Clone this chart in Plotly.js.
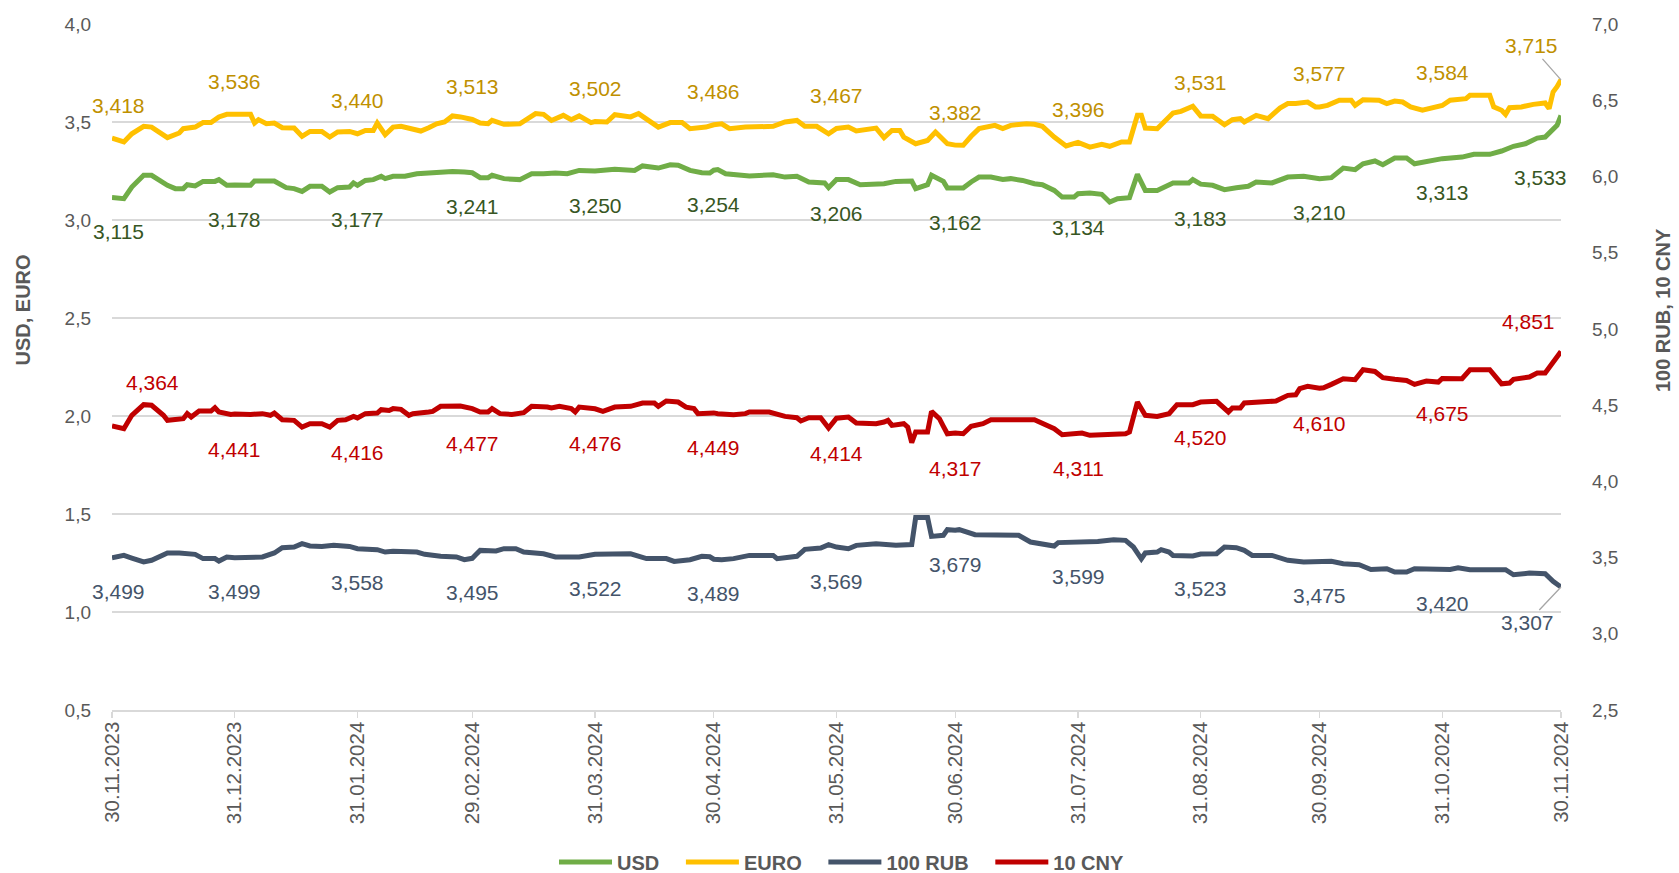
<!DOCTYPE html>
<html>
<head>
<meta charset="utf-8">
<script src="https://cdn.plot.ly/plotly-3.0.1.min.js"></script>
<style>html,body{margin:0;padding:0;background:#fff;}#chart{width:1679px;height:873px;}</style>
</head>
<body>
<div id="chart"></div>
<script>
// Day offsets are days since 30.11.2023
const startDate = '2023-11-30';

const usdDays = [
  0,3,5,8,10,14,16,18,19,21,
  23,26,27,29,31,35,36,41,44,46,
  48,50,53,55,57,60,61,62,64,66,
  68,69,71,74,77,81,82,86,89,91,
  93,95,96,99,103,106,109,112,115,118,
  122,127,132,134,138,141,143,146,149,151,
  152,153,155,161,167,170,173,176,180,181,
  183,186,189,195,198,202,203,206,207,210,
  211,213,215,217,219,222,225,227,230,233,
  235,238,240,243,244,247,250,252,254,257,
  259,261,264,268,272,273,275,278,281,284,
  287,289,293,297,301,305,308,311,314,316,
  319,321,324,327,329,336,338,341,344,348,
  351,354,357,360,362,364,365,366];
const usdVals = [
  3.115,3.109,3.168,3.228,3.228,3.177,3.160,3.160,3.180,3.174,
  3.197,3.197,3.206,3.177,3.178,3.177,3.199,3.199,3.165,3.160,
  3.146,3.172,3.172,3.143,3.165,3.168,3.189,3.177,3.202,3.206,
  3.223,3.211,3.223,3.223,3.236,3.240,3.245,3.248,3.245,3.241,
  3.216,3.216,3.228,3.211,3.206,3.236,3.236,3.240,3.236,3.253,
  3.250,3.259,3.253,3.276,3.265,3.282,3.279,3.253,3.241,3.240,
  3.254,3.257,3.236,3.224,3.231,3.219,3.223,3.194,3.189,3.165,
  3.206,3.206,3.180,3.185,3.197,3.199,3.160,3.180,3.228,3.197,
  3.163,3.162,3.163,3.194,3.219,3.219,3.207,3.211,3.202,3.185,
  3.180,3.151,3.117,3.117,3.134,3.138,3.131,3.092,3.109,3.114,
  3.233,3.151,3.151,3.189,3.189,3.206,3.183,3.177,3.155,3.165,
  3.172,3.194,3.189,3.219,3.223,3.210,3.216,3.265,3.257,3.287,
  3.301,3.282,3.316,3.316,3.287,3.313,3.318,3.321,3.335,3.335,
  3.352,3.376,3.389,3.418,3.423,3.466,3.483,3.533];

const euroDays = [
  0,3,5,8,10,14,17,18,21,23,
  25,27,29,35,36,37,39,41,43,46,
  48,50,53,55,57,60,62,64,66,67,
  69,71,73,75,78,80,82,84,86,88,
  91,93,95,96,99,103,105,107,109,111,
  114,116,118,121,122,125,127,131,133,135,
  138,141,144,146,150,152,154,156,160,167,
  170,173,175,178,181,183,186,188,193,195,
  197,199,200,203,206,208,211,213,215,217,
  219,223,225,227,231,233,235,238,241,244,
  247,250,252,255,257,259,260,261,264,268,
  270,273,275,278,281,283,285,286,289,292,
  295,297,299,302,304,305,307,310,313,314,
  316,320,322,324,326,328,331,336,338,342,
  343,348,349,351,352,353,356,359,362,363,
  364,365,366];
const euroVals = [
  3.418,3.398,3.440,3.478,3.474,3.420,3.444,3.466,3.474,3.497,
  3.497,3.526,3.539,3.539,3.495,3.512,3.491,3.495,3.471,3.469,
  3.427,3.452,3.452,3.423,3.449,3.452,3.440,3.457,3.457,3.495,
  3.435,3.474,3.478,3.466,3.454,3.471,3.491,3.500,3.531,3.526,
  3.513,3.495,3.491,3.508,3.488,3.491,3.514,3.543,3.539,3.508,
  3.534,3.512,3.531,3.497,3.502,3.500,3.537,3.526,3.543,3.517,
  3.474,3.497,3.497,3.466,3.474,3.486,3.491,3.466,3.474,3.478,
  3.500,3.508,3.478,3.478,3.440,3.467,3.474,3.454,3.469,3.420,
  3.457,3.457,3.423,3.389,3.406,3.449,3.389,3.382,3.381,3.427,
  3.466,3.483,3.466,3.483,3.491,3.488,3.478,3.423,3.378,3.396,
  3.372,3.386,3.376,3.398,3.398,3.534,3.534,3.469,3.466,3.546,
  3.554,3.580,3.531,3.529,3.486,3.512,3.517,3.500,3.534,3.517,
  3.571,3.594,3.594,3.602,3.577,3.577,3.585,3.611,3.611,3.585,
  3.614,3.611,3.594,3.607,3.602,3.577,3.560,3.584,3.611,3.619,
  3.636,3.636,3.577,3.560,3.539,3.573,3.577,3.590,3.597,3.568,
  3.653,3.680,3.715];

const rubDays = [
  0,3,5,8,10,14,17,21,23,26,
  27,29,31,38,41,43,46,48,50,53,
  56,60,62,65,67,69,71,77,79,83,
  87,89,91,92,93,97,99,102,104,109,
  112,118,122,131,135,140,142,146,149,151,
  152,154,157,161,167,168,173,175,179,181,
  183,186,188,193,198,202,203,206,207,210,
  211,213,214,218,225,229,232,238,239,244,
  249,253,256,258,260,261,264,265,267,268,
  273,275,279,281,284,286,288,293,297,301,
  305,308,311,315,318,322,324,327,329,336,
  338,340,343,352,354,358,362,364,366];
const rubVals = [
  3.499,3.514,3.497,3.471,3.482,3.530,3.530,3.521,3.493,3.493,
  3.477,3.504,3.499,3.504,3.530,3.565,3.569,3.591,3.576,3.573,
  3.580,3.573,3.558,3.552,3.552,3.536,3.541,3.536,3.521,3.508,
  3.504,3.486,3.495,3.521,3.547,3.543,3.558,3.558,3.536,3.525,
  3.504,3.504,3.522,3.525,3.493,3.493,3.475,3.486,3.508,3.505,
  3.489,3.486,3.493,3.514,3.514,3.493,3.508,3.554,3.563,3.585,
  3.569,3.558,3.580,3.591,3.580,3.585,3.762,3.762,3.639,3.646,
  3.683,3.679,3.683,3.650,3.646,3.646,3.602,3.576,3.598,3.599,
  3.606,3.617,3.613,3.569,3.492,3.530,3.536,3.552,3.536,3.514,
  3.510,3.523,3.525,3.569,3.565,3.547,3.514,3.514,3.482,3.471,
  3.475,3.475,3.460,3.453,3.422,3.427,3.405,3.405,3.427,3.420,
  3.422,3.433,3.420,3.420,3.387,3.398,3.394,3.344,3.307];

const cnyDays = [
  0,3,5,8,10,13,14,18,19,20,
  22,25,26,27,30,31,35,38,40,41,
  43,46,48,50,53,55,57,59,61,62,
  64,67,68,70,71,73,75,76,80,81,
  83,87,88,91,93,95,96,98,101,104,
  106,110,111,113,116,117,118,122,124,127,
  131,134,137,138,140,143,145,147,148,152,
  153,157,160,161,166,170,173,174,176,179,
  181,183,186,188,193,195,196,197,200,201,
  202,203,206,207,209,210,211,213,215,217,
  220,222,226,229,233,235,238,240,244,245,
  247,256,257,258,259,261,264,267,269,273,
  275,279,282,283,285,286,291,294,297,299,
  300,302,305,306,308,311,314,316,319,321,
  324,327,329,332,335,336,341,343,348,351,
  353,354,358,360,362,364,366];
const cnyVals = [
  4.364,4.345,4.433,4.503,4.499,4.433,4.400,4.411,4.444,4.422,
  4.461,4.461,4.483,4.455,4.439,4.441,4.439,4.444,4.433,4.448,
  4.404,4.400,4.356,4.378,4.378,4.356,4.400,4.404,4.426,4.416,
  4.444,4.448,4.470,4.465,4.477,4.472,4.433,4.444,4.455,4.459,
  4.492,4.487,4.494,4.477,4.455,4.455,4.477,4.444,4.439,4.450,
  4.492,4.487,4.481,4.492,4.477,4.455,4.487,4.476,4.459,4.487,
  4.492,4.514,4.514,4.492,4.527,4.520,4.487,4.477,4.444,4.449,
  4.444,4.437,4.444,4.455,4.455,4.426,4.417,4.396,4.417,4.417,
  4.350,4.414,4.422,4.382,4.378,4.389,4.400,4.367,4.378,4.356,
  4.254,4.324,4.324,4.459,4.411,4.361,4.312,4.317,4.312,4.361,
  4.378,4.404,4.400,4.404,4.404,4.382,4.345,4.306,4.311,4.317,
  4.302,4.312,4.324,4.422,4.520,4.433,4.426,4.444,4.503,4.503,
  4.520,4.525,4.455,4.481,4.481,4.514,4.520,4.527,4.564,4.568,
  4.608,4.623,4.610,4.614,4.636,4.673,4.667,4.732,4.721,4.680,
  4.669,4.662,4.636,4.658,4.651,4.675,4.673,4.732,4.732,4.640,
  4.645,4.669,4.684,4.710,4.710,4.782,4.851];

// Month-end labelled points and x tick labels
const labelDates = ['2023-11-30','2023-12-31','2024-01-31','2024-02-29','2024-03-31','2024-04-30',
  '2024-05-31','2024-06-30','2024-07-31','2024-08-31','2024-09-30','2024-10-31','2024-11-30'];
const tickLabels = ['30.11.2023','31.12.2023','31.01.2024','29.02.2024','31.03.2024','30.04.2024',
  '31.05.2024','30.06.2024','31.07.2024','31.08.2024','30.09.2024','31.10.2024','30.11.2024'];
const usdLabels  = [3.115,3.178,3.177,3.241,3.250,3.254,3.206,3.162,3.134,3.183,3.210,3.313,3.533];
const euroLabels = [3.418,3.536,3.440,3.513,3.502,3.486,3.467,3.382,3.396,3.531,3.577,3.584,3.715];
const rubLabels  = [3.499,3.499,3.558,3.495,3.522,3.489,3.569,3.679,3.599,3.523,3.475,3.420,3.307];
const cnyLabels  = [4.364,4.441,4.416,4.477,4.476,4.449,4.414,4.317,4.311,4.520,4.610,4.675,4.851];

const seriesNames = ['USD','EURO','100 RUB','10 CNY'];
const axisTitles = ['USD, EURO', '100 RUB, 10 CNY'];

// ---- helpers ----
const t0 = Date.UTC(2023, 10, 30);
function toDate(d){ return new Date(t0 + d*86400000).toISOString().slice(0,10); }
function fmt(v){ return v.toFixed(3).replace('.', ','); }

const FONT = '"Liberation Sans", Arial, Helvetica, sans-serif';
const GREY = '#595959';
const colors = {usd:'#70AD47', euro:'#FFC000', rub:'#44546A', cny:'#C00000'};
const labelColors = {usd:'#375623', euro:'#BF9000', rub:'#44546A', cny:'#C00000'};
const LEGEND_PAD = '&nbsp;&nbsp;&nbsp;';

function line(days, vals, name, color, yaxis, pad){
  return {x: days.map(toDate), y: vals, name: '<b>'+name+'</b>' + (pad ? LEGEND_PAD : ''),
    type:'scatter', mode:'lines',
    yaxis: yaxis, line:{color: color, width: 5, shape:'linear'}, hoverinfo:'skip'};
}

const traces = [
  line(usdDays, usdVals, seriesNames[0], colors.usd, 'y', true),
  line(euroDays, euroVals, seriesNames[1], colors.euro, 'y', true),
  line(rubDays, rubVals, seriesNames[2], colors.rub, 'y2', true),
  line(cnyDays, cnyVals, seriesNames[3], colors.cny, 'y2', false)
];

const annotations = [];
function addLabels(vals, yref, color, defShift, special){
  vals.forEach((v, i) => {
    const a = {x: labelDates[i], y: v, xref:'x', yref: yref, text: fmt(v), showarrow:false,
      xanchor:'center', yanchor:'middle', yshift: defShift, xshift: 0,
      font:{family: FONT, size: 21, color: color}};
    if (i === 0) a.xshift = 6;
    if (special[i]) Object.assign(a, special[i]);
    annotations.push(a);
  });
}
const last = labelDates.length - 1;
const arrowStyle = {showarrow:true, arrowhead:0, arrowwidth:1.3, arrowcolor:'#A6A6A6', standoff:0, xshift:0, yshift:0};
addLabels(euroLabels, 'y', labelColors.euro, 33, {[last]: Object.assign({}, arrowStyle, {ax:-30, ay:-34})});
addLabels(usdLabels, 'y', labelColors.usd, -34, {[last]: {xshift:-21, yshift:-62}});
addLabels(rubLabels, 'y2', labelColors.rub, -34, {[last]: Object.assign({}, arrowStyle, {ax:-34, ay:36})});
addLabels(cnyLabels, 'y2', labelColors.cny, -35, {0: {xshift:40, yshift:43}, [last]: {xshift:-33, yshift:30}});

// axis titles (positioned like the reference, above the vertical centre)
annotations.push({text:'<b>'+axisTitles[0]+'</b>', xref:'paper', yref:'paper', x:-0.0611, y:0.583,
  textangle:-90, showarrow:false, xanchor:'center', yanchor:'middle',
  font:{family: FONT, size:20, color: GREY}});
annotations.push({text:'<b>'+axisTitles[1]+'</b>', xref:'paper', yref:'paper', x:1.0704, y:0.583,
  textangle:-90, showarrow:false, xanchor:'center', yanchor:'middle',
  font:{family: FONT, size:20, color: GREY}});

const layout = {
  width: 1679, height: 873,
  margin: {l:112, r:118, t:24, b:163, pad:0, autoexpand:false},
  paper_bgcolor:'#ffffff', plot_bgcolor:'#ffffff',
  separators: ', ',
  font: {family: FONT, color: GREY, size:19},
  showlegend: true,
  xaxis: {
    type:'date', range:[startDate, '2024-11-30'], automargin:false,
    tickmode:'array', tickvals: labelDates, ticktext: tickLabels, tickangle:-90,
    ticks:'outside', ticklen:6, tickwidth:1.3, tickcolor:'#D9D9D9', ticklabelstandoff:-4,
    showline:true, linecolor:'#D9D9D9', linewidth:1.5,
    showgrid:false, zeroline:false,
    tickfont:{family: FONT, size:20.5, color: GREY}
  },
  yaxis: {
    range:[0.5, 4.0], tick0:0.5, dtick:0.5, tickformat:'.1f', automargin:false,
    showgrid:true, gridcolor:'#D9D9D9', gridwidth:1.5, zeroline:false, showline:false, ticks:'',
    ticklabelstandoff:20,
    tickfont:{family: FONT, size:19, color: GREY}
  },
  yaxis2: {
    range:[2.5, 7.0], tick0:2.5, dtick:0.5, tickformat:'.1f', automargin:false,
    overlaying:'y', side:'right', showgrid:false, zeroline:false, showline:false, ticks:'',
    ticklabelstandoff:30,
    tickfont:{family: FONT, size:19, color: GREY}
  },
  legend: {orientation:'h', x:0.5038, xanchor:'center', y:-0.2216, yanchor:'middle', itemwidth:53,
    font:{family: FONT, size:20, color: GREY}, bgcolor:'rgba(0,0,0,0)', traceorder:'normal'},
  annotations: annotations
};

Plotly.newPlot('chart', traces, layout, {staticPlot:true, displayModeBar:false});
</script>
</body>
</html>
